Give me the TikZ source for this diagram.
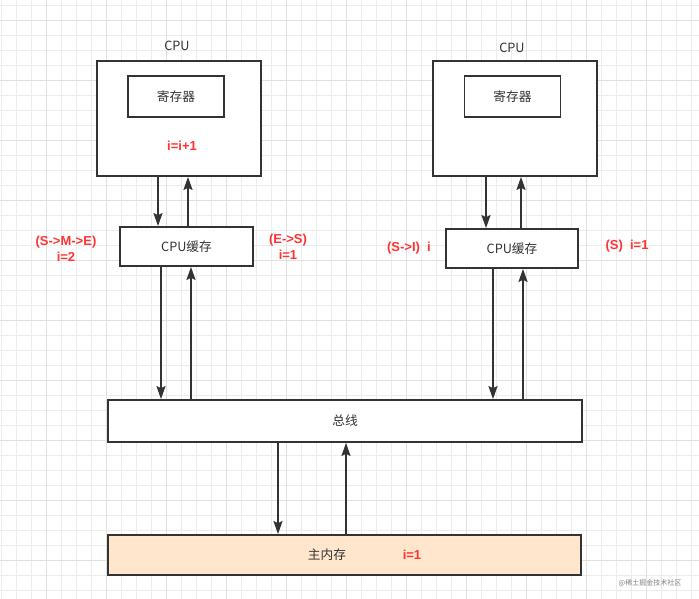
\documentclass[tikz,border=0pt]{standalone}
\usepackage{fontspec}
\setmainfont{Noto Sans CJK SC}
\newfontfamily\labfont{Liberation Sans}
\usepackage{xcolor}
\usepackage{tikz}
\usetikzlibrary{arrows.meta, positioning, calc}

\definecolor{linec}{HTML}{333333}
\definecolor{redc}{HTML}{FF3333}
\definecolor{memfill}{HTML}{FFE6CC}
\definecolor{gridminor}{HTML}{ECECEC}
\definecolor{gridmajor}{HTML}{E0E0E0}

\begin{document}
\begin{tikzpicture}[
    x=1pt, y=-1pt,
    box/.style={draw=linec, line width=1.8pt, minimum width=#1, inner sep=0pt,
                font=\fontsize{12.7}{14}\selectfont, text=linec},
    red/.style={text=redc, font=\labfont\bfseries\fontsize{13}{16}\selectfont, align=center, inner sep=0pt},
    txt/.style={text=linec, font=\fontsize{12.7}{14}\selectfont, inner sep=0pt},
    dep/.style={-{Stealth[length=13pt, width=9pt, inset=2pt]}, line width=1.6pt, color=linec}
]
\useasboundingbox (0,0) rectangle (699,599);
\fill[white] (0,0) rectangle (699,599);

% Grid
\foreach \gx in {1,16,...,699} \draw[gridminor, line width=0.8pt] (\gx,0) -- (\gx,599);
\foreach \gy in {5,20,...,599} \draw[gridminor, line width=0.8pt] (0,\gy) -- (699,\gy);
\foreach \gx in {46,106,...,699} \draw[gridmajor, line width=0.8pt] (\gx,0) -- (\gx,599);
\foreach \gy in {20,80,...,599} \draw[gridmajor, line width=0.8pt] (0,\gy) -- (699,\gy);

% CPU layer
\node[box=164pt, minimum height=115pt, fill=white] (cpuL) at (179, 118.5) {};
\node[box=164pt, minimum height=115pt, fill=white] (cpuR) at (515, 118.5) {};
\node[txt] (nameL) at (177, 46) {CPU};
\node[txt] (nameR) at (512, 48) {CPU};
\node[box=96pt, minimum height=41pt] (regL) at (176, 96.5) {寄存器};
\node[box=96pt, minimum height=41pt] (regR) at (512.5, 96.5) {寄存器};
\node[red] (opL) at (182, 146) {i=i+1};

% Cache layer
\node[box=133pt, minimum height=39pt, fill=white] (cacheL) at (186.5, 246.5) {CPU缓存};
\node[box=132pt, minimum height=39pt, fill=white] (cacheR) at (512, 248.5) {CPU缓存};
\node[red] (stA) at (66, 249) {(S->M->E)\\i=2};
\node[red] (stB) at (288, 246.5) {(E->S)\\i=1};
\node[red] (stC) at (409, 248) {(S->I)\ \ i};
\node[red] (stD) at (627, 246) {(S)\ \ i=1};

% Bus and memory
\node[box=474pt, minimum height=42pt, fill=white] (bus) at (345, 421) {总线};
\node[box=473pt, minimum height=40pt, fill=memfill] (mem) at (344.5, 555) {};
\node[txt] (memname) at (327, 555) {主内存};
\node[red] (memval) at (412, 555) {i=1};
\node[text=gray, font=\fontsize{7}{8}\selectfont, inner sep=0pt] (mark) at (650, 583) {@稀土掘金技术社区};

% Connections
\draw[dep] (cpuL.south -| 158,0) -- (cacheL.north -| 158,0);
\draw[dep] (cacheL.north -| 188,0) -- (cpuL.south -| 188,0);
\draw[dep] (cpuR.south -| 486,0) -- (cacheR.north -| 486,0);
\draw[dep] (cacheR.north -| 521,0) -- (cpuR.south -| 521,0);
\draw[dep] (cacheL.south -| 161,0) -- (bus.north -| 161,0);
\draw[dep] (bus.north -| 191,0) -- (cacheL.south -| 191,0);
\draw[dep] (cacheR.south -| 493,0) -- (bus.north -| 493,0);
\draw[dep] (bus.north -| 523,0) -- (cacheR.south -| 523,0);
\draw[dep] (bus.south -| 278,0) -- (mem.north -| 278,0);
\draw[dep] (mem.north -| 346,0) -- (bus.south -| 346,0);
\end{tikzpicture}
\end{document}
